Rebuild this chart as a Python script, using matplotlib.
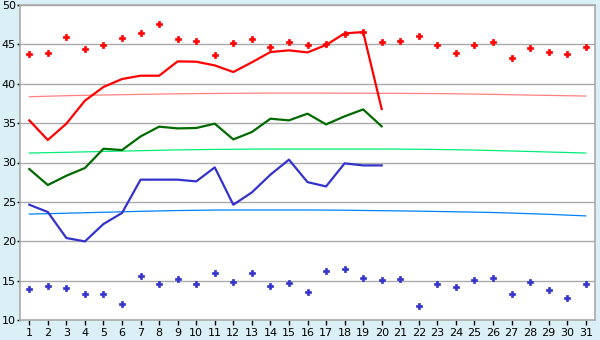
import matplotlib
matplotlib.use("Agg")
import matplotlib.pyplot as plt

days = list(range(1, 32))

max_daily = [43.78, 43.90, 45.89, 44.41, 44.92, 45.76, 46.44, 47.59, 45.68, 45.38,
             43.65, 45.17, 45.68, 44.67, 45.30, 44.92, 45.05, 46.30, 46.57, 45.30,
             45.43, 46.06, 44.92, 43.90, 44.92, 45.30, 43.27, 44.54, 44.03, 43.78, 44.67]
min_daily = [13.94, 14.32, 14.10, 13.30, 13.30, 12.03, 15.59, 14.57, 15.25, 14.57,
             15.97, 14.83, 15.97, 14.32, 14.70, 13.56, 16.22, 16.48, 15.34, 15.08,
             15.21, 11.78, 14.57, 14.19, 15.08, 15.34, 13.30, 14.83, 13.81, 12.79, 14.57]

line_days = list(range(1, 21))
red_line = [35.35, 32.86, 34.93, 37.85, 39.59, 40.60, 41.02, 41.02, 42.84, 42.80,
            42.33, 41.49, 42.72, 44.03, 44.24, 43.98, 44.92, 46.39, 46.57, 36.79]
green_line = [29.17, 27.14, 28.32, 29.30, 31.75, 31.58, 33.31, 34.55, 34.33, 34.38,
              34.93, 32.93, 33.87, 35.56, 35.35, 36.20, 34.84, 35.86, 36.74, 34.59]
blue_line = [24.64, 23.71, 20.41, 19.98, 22.19, 23.59, 27.82, 27.82, 27.82, 27.60,
             29.38, 24.64, 26.20, 28.45, 30.36, 27.51, 26.96, 29.89, 29.63, 29.63]

red_norm = [38.35, 38.42, 38.48, 38.53, 38.57, 38.61, 38.65, 38.69, 38.72, 38.75,
            38.77, 38.79, 38.80, 38.81, 38.81, 38.81, 38.81, 38.80, 38.80, 38.79,
            38.78, 38.77, 38.75, 38.72, 38.69, 38.65, 38.60, 38.56, 38.52, 38.48, 38.44]
green_norm = [31.20, 31.25, 31.30, 31.35, 31.40, 31.45, 31.50, 31.55, 31.60, 31.63,
              31.66, 31.68, 31.70, 31.71, 31.71, 31.71, 31.71, 31.71, 31.71, 31.71,
              31.70, 31.68, 31.65, 31.62, 31.58, 31.52, 31.46, 31.40, 31.33, 31.27, 31.20]
blue_norm = [23.45, 23.50, 23.56, 23.62, 23.68, 23.74, 23.80, 23.85, 23.90, 23.93,
             23.96, 23.97, 23.97, 23.97, 23.97, 23.97, 23.96, 23.94, 23.91, 23.88,
             23.85, 23.82, 23.78, 23.74, 23.70, 23.65, 23.58, 23.50, 23.42, 23.32, 23.22]

y_ticks = [10, 15, 20, 25, 30, 35, 40, 45, 50]

bg = "#DAEFF6"
fig = plt.figure(figsize=(6, 3.4), dpi=100, facecolor=bg)
ax = fig.add_axes([20/600, 20/340, 575/600, 315/340])
ax.set_facecolor("white")

for y in y_ticks[1:]:
    ax.axhline(y, color="#AAAAAA", lw=1.0, zorder=1)

ax.plot(days, red_norm, color="#FF8080", lw=0.9, zorder=2)
ax.plot(days, green_norm, color="#00EE77", lw=0.9, zorder=2)
ax.plot(days, blue_norm, color="#0080FF", lw=0.9, zorder=2)

ax.plot(line_days, red_line, color="#FF0000", lw=1.6, zorder=3)
ax.plot(line_days, green_line, color="#006A00", lw=1.6, zorder=3)
ax.plot(line_days, blue_line, color="#3333CC", lw=1.6, zorder=3)

ax.plot(days, max_daily, ls="none", marker="P", ms=4.5, color="#FF0000",
        mec="#FF0000", mew=0.5, zorder=4)
ax.plot(days, min_daily, ls="none", marker="P", ms=4.5, color="#3333CC",
        mec="#3333CC", mew=0.5, zorder=4)

ax.set_xlim(0.5, 31.5)
ax.set_ylim(10, 50)
ax.set_xticks(days)
ax.set_xticklabels([str(d) for d in days])
ax.set_yticks(y_ticks)
ax.tick_params(axis="x", direction="out", length=3.6, width=1, color="black",
               labelsize=8, pad=2)
ax.tick_params(axis="y", direction="out", length=2.2, width=1, color="black",
               labelsize=8, pad=0.8)
for s in ax.spines.values():
    s.set_color("#AAAAAA")
    s.set_linewidth(1.2)

fig.savefig("out.png", dpi=100, facecolor=bg)
